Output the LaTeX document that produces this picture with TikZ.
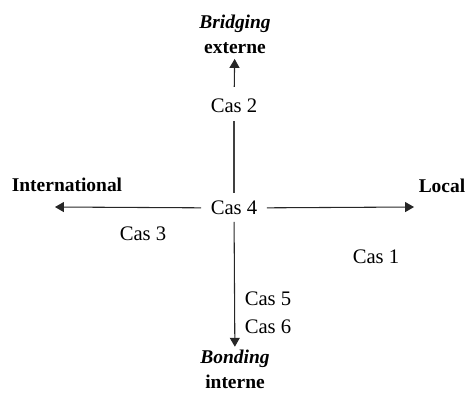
\documentclass[tikz,border=0pt]{standalone}
\usepackage{fontspec}
\setmainfont{Liberation Serif}
\usepackage{tikz}
\usetikzlibrary{arrows, positioning}

\begin{document}
\begin{tikzpicture}[x=0.75pt, y=-0.75pt]
        % Styles
        \tikzstyle{cas} = [inner sep=1pt, font=\fontsize{15.5}{18}\selectfont, text=black]
        \tikzstyle{pole} = [inner sep=1pt, align=center, font=\fontsize{14.6}{18.8}\selectfont\bfseries, text=black]
        \tikzstyle{axis} = [thick, color=black!75]
        \tikzstyle{arrow} = [thick, -triangle 60, color=black!85]

        \useasboundingbox (0,0) rectangle (472,394);

        % Nodes
        \node (cas4) [cas] at (234,208) {Cas 4};
        \node (cas2) [cas] at (234,106) {Cas 2};
        \node (ext) [pole] at (235,34) {\textit{Bridging}\\externe};
        \node (bond) [pole] at (235,369) {\textit{Bonding}\\interne};
        \node (intl) [pole] at (67,185) {International};
        \node (local) [pole] at (442,186) {Local};
        \node (cas3) [cas] at (143,234) {Cas 3};
        \node (cas1) [cas] at (376,257) {Cas 1};
        \node (cas5) [cas] at (268,299) {Cas 5};
        \node (cas6) [cas] at (268,327) {Cas 6};

        \coordinate (wend) at (55,207);
        \coordinate (eend) at (414,207);

        % Axes
        \draw [axis, shorten <=5pt, shorten >=5pt] (cas4) -- (cas2);
        \draw [arrow, shorten <=8pt, shorten >=3pt] (cas2) -- (ext);
        \draw [arrow, shorten <=6pt] (cas4) -- (wend);
        \draw [arrow, shorten <=6pt] (cas4) -- (eend);
        \draw [arrow, shorten <=4pt, shorten >=1pt] (cas4) -- (bond);

    \end{tikzpicture}
\end{document}
